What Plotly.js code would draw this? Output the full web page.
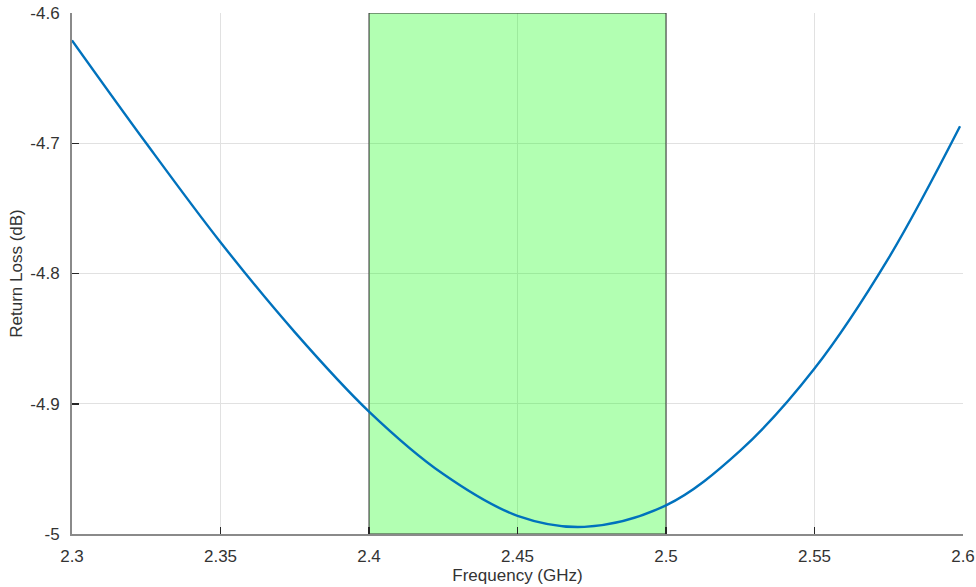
<!DOCTYPE html>
<html>
<head>
<meta charset="utf-8">
<script src="https://cdn.plot.ly/plotly-3.0.1.min.js"></script>
<style>
html,body{margin:0;padding:0;background:#fff;}
#chart{width:976px;height:587px;}
</style>
</head>
<body>
<div id="chart"></div>
<script>
// Frequency (GHz)
const freq = [2.300, 2.325, 2.350, 2.375, 2.400, 2.425, 2.450, 2.4725, 2.500, 2.525, 2.550, 2.575, 2.599];
// Return loss (dB)
const returnLoss = [-4.621, -4.700, -4.776, -4.845, -4.906, -4.954, -4.986, -4.9945, -4.978, -4.936, -4.873, -4.788, -4.687];
// Highlighted band (GHz)
const bandStart = 2.4;
const bandEnd = 2.5;
const xTicks = [2.3, 2.35, 2.4, 2.45, 2.5, 2.55, 2.6];
const xTickLabels = ['2.3', '2.35', '2.4', '2.45', '2.5', '2.55', '2.6'];
const yTicks = [-5, -4.9, -4.8, -4.7, -4.6];
const yTickLabels = ['-5', '-4.9', '-4.8', '-4.7', '-4.6'];
const xRange = [2.3, 2.6];
const yRange = [-5, -4.6];

const fontFam = 'Liberation Sans, Arial, sans-serif';
const txtCol = '#333333';
const fs = 17;
const trace = {
  x: freq, y: returnLoss, type: 'scatter', mode: 'lines',
  line: {color: '#0072BD', width: 2.4, shape: 'spline', smoothing: 1},
  hoverinfo: 'skip', showlegend: false
};

const layout = {
  width: 976, height: 587,
  margin: {l: 71.5, r: 13.3, t: 13, b: 53},
  paper_bgcolor: '#ffffff', plot_bgcolor: '#ffffff',
  font: {family: fontFam, size: fs, color: txtCol},
  xaxis: {
    range: xRange, tickvals: xTicks, ticktext: xTickLabels,
    showgrid: true, gridcolor: '#e1e1e1', gridwidth: 1,
    showline: true, linecolor: '#8a8a8a', linewidth: 2,
    ticks: 'inside', ticklen: 7, tickwidth: 1.5, tickcolor: '#262626',
    ticklabelstandoff: 6,
    zeroline: false, tickfont: {size: fs, color: txtCol},
    title: {text: 'Frequency (GHz)', font: {size: fs, color: txtCol}, standoff: 2}
  },
  yaxis: {
    range: yRange, tickvals: yTicks, ticktext: yTickLabels,
    showgrid: true, gridcolor: '#e1e1e1', gridwidth: 1,
    showline: true, linecolor: '#8a8a8a', linewidth: 2,
    ticks: 'inside', ticklen: 7, tickwidth: 1.5, tickcolor: '#262626',
    ticklabelstandoff: 7,
    zeroline: false, tickfont: {size: fs, color: txtCol},
    title: {text: 'Return Loss (dB)', font: {size: fs, color: txtCol}, standoff: 3}
  },
  shapes: [{
    type: 'rect', xref: 'x', yref: 'y', layer: 'between',
    x0: bandStart, x1: bandEnd, y0: yRange[0], y1: yRange[1],
    fillcolor: 'rgba(0,255,0,0.3)',
    line: {color: '#333333', width: 1}
  }]
};

Plotly.newPlot('chart', [trace], layout, {displayModeBar: false, staticPlot: true});
</script>
</body>
</html>
